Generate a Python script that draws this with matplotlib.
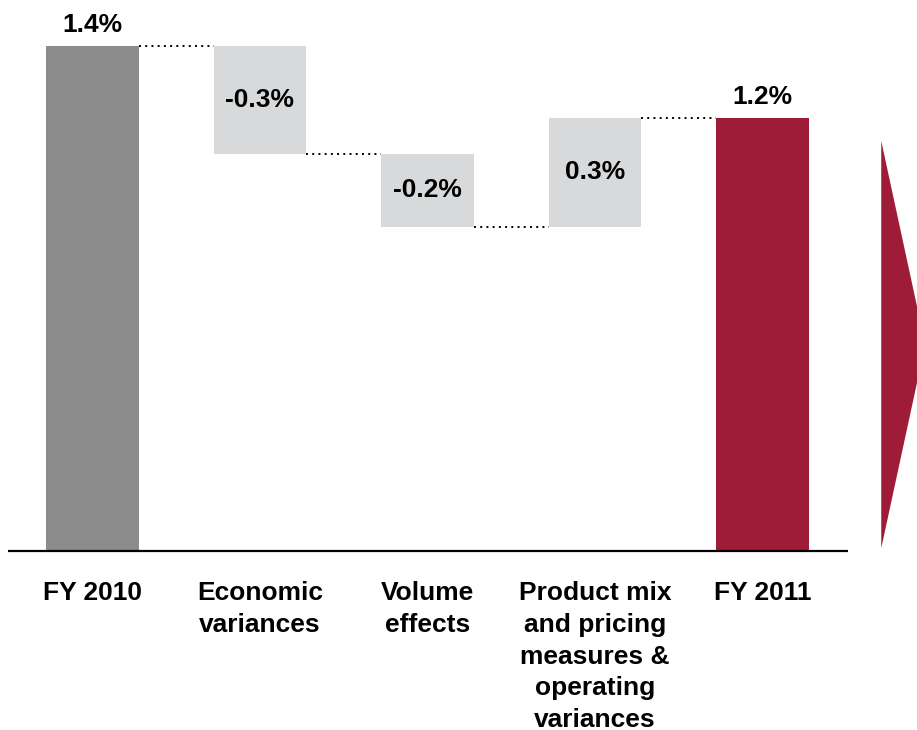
import matplotlib.pyplot as plt
from matplotlib.patches import Polygon

plt.rcParams['font.family'] = ['Liberation Sans', 'DejaVu Sans']

categories = ["FY 2010", "Economic\nvariances", "Volume\neffects",
              "Product mix\nand pricing\nmeasures &\noperating\nvariances", "FY 2011"]
values = [1.4, -0.3, -0.2, 0.3, 1.2]
labels = ["1.4%", "-0.3%", "-0.2%", "0.3%", "1.2%"]
is_total = [True, False, False, False, True]

total_colors = ["#8c8c8c", None, None, None, "#9e1c37"]
step_color = "#d8d9db"
width = 0.55
fs = 19

fig = plt.figure(figsize=(9.17, 7.30), dpi=100)
ax = fig.add_axes([0, 0, 1, 1])
ax.set_xlim(-0.552, 4.922)
ax.set_ylim(-0.496, 1.528)
ax.axis('off')

running = 0.0
prev_level = None
for i, (v, lab, tot) in enumerate(zip(values, labels, is_total)):
    if tot:
        running = v
        ax.bar(i, v, width=width, color=total_colors[i], linewidth=0)
        ax.text(i, v + 0.025, lab, ha='center', va='bottom',
                fontsize=fs, fontweight='bold')
    else:
        start = running
        running = running + v
        bottom, top = min(start, running), max(start, running)
        ax.bar(i, top - bottom, bottom=bottom, width=width,
               color=step_color, linewidth=0)
        ax.text(i, (top + bottom) / 2, lab, ha='center', va='center',
                fontsize=fs, fontweight='bold')
    # dotted connector from the previous bar's level
    if prev_level is not None:
        ax.plot([i - 1 + width / 2, i - width / 2], [prev_level, prev_level],
                color='black', linestyle=(0, (1, 2.2)), linewidth=1.4)
    prev_level = running
    ax.text(i, -0.084, categories[i], ha='center', va='top',
            fontsize=fs, fontweight='bold', linespacing=1.4)

# baseline
ax.plot([-0.504, 4.51], [0, 0], color='black', linewidth=1.6,
        solid_capstyle='butt')

# arrow on the right edge
arrow = Polygon([(0.961, 0.807), (1.009, 0.528), (0.961, 0.249)],
                closed=True, transform=ax.transAxes, facecolor="#9e1c37",
                edgecolor='none', clip_on=False)
ax.add_patch(arrow)

fig.savefig("out.png", dpi=100)
